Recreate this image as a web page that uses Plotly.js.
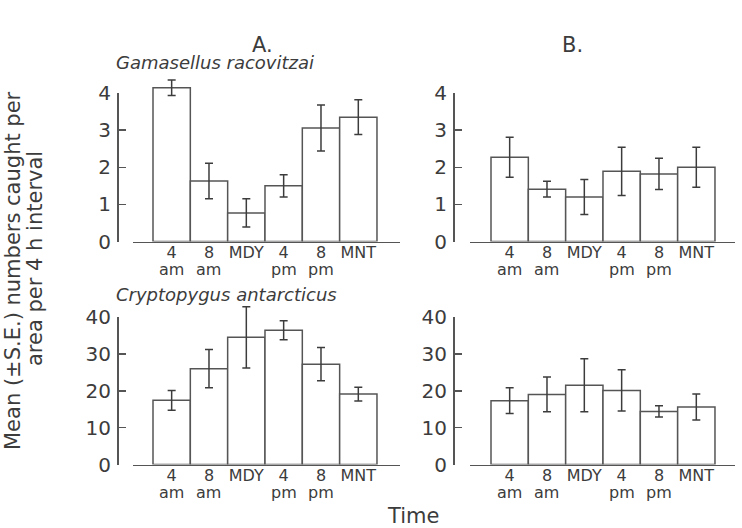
<!DOCTYPE html>
<html>
<head>
<meta charset="utf-8">
<script src="https://cdn.plot.ly/plotly-3.0.1.min.js"></script>
<style>html,body{margin:0;padding:0;background:#fff;}#chart{width:742px;height:528px;}</style>
</head>
<body>
<div id="chart"></div>
<script>
// ---- data ----
const timeLine1 = ["4", "8", "MDY", "4", "8", "MNT"];
const timeLine2 = ["am", "am", "", "pm", "pm", ""];
const slots = [0, 1, 2, 3, 4, 5];

const gamA = [4.14, 1.63, 0.77, 1.50, 3.06, 3.35];
const gamAErr = [0.21, 0.48, 0.38, 0.30, 0.62, 0.47];
const gamB = [2.27, 1.41, 1.20, 1.89, 1.82, 2.00];
const gamBErr = [0.54, 0.21, 0.47, 0.65, 0.42, 0.54];

const cryA = [17.4, 26.0, 34.5, 36.4, 27.2, 19.1];
const cryAErr = [2.7, 5.2, 8.3, 2.6, 4.5, 1.85];
const cryB = [17.3, 19.0, 21.5, 20.1, 14.4, 15.6];
const cryBErr = [3.5, 4.7, 7.2, 5.6, 1.5, 3.5];

const panelTitles = ["A.", "B."];
const speciesNames = ["Gamasellus racovitzai", "Cryptopygus antarcticus"];
const yTitleLines = ["Mean (\u00b1S.E.) numbers caught per", "area per 4 h interval"];
const xTitle = "Time";

// ---- layout helpers ----
const W = 742, H = 528;
const px = v => v / W;
const py = v => 1 - v / H;
const FONT = "DejaVu Sans, Liberation Sans, Arial, sans-serif";
const INK = "#3c3c3c";
const LINE = "#555555";

const panels = [
  {vals: gamA, err: gamAErr, xa: "x", ya: "y", vy: "y5", x0: 133, x1: 400, bar0: 153, y0: 241.5, yTop: 93, vmax: 4, dmax: 4.6, dtick: 1, axisX: 117},
  {vals: gamB, err: gamBErr, xa: "x2", ya: "y2", vy: "y6", x0: 470, x1: 735, bar0: 491, y0: 241.5, yTop: 93, vmax: 4, dmax: 4.6, dtick: 1, axisX: 453},
  {vals: cryA, err: cryAErr, xa: "x3", ya: "y3", vy: "y7", x0: 133, x1: 400, bar0: 153, y0: 464.5, yTop: 317, vmax: 40, dmax: 46, dtick: 10, axisX: 117},
  {vals: cryB, err: cryBErr, xa: "x4", ya: "y4", vy: "y8", x0: 470, x1: 735, bar0: 491, y0: 464.5, yTop: 317, vmax: 40, dmax: 46, dtick: 10, axisX: 453}
];
const BW = 37.33;

const data = [];
const layout = {
  width: W, height: H,
  margin: {l: 0, r: 0, t: 0, b: 0},
  paper_bgcolor: "#fff", plot_bgcolor: "rgba(0,0,0,0)",
  showlegend: false,
  font: {family: FONT, color: INK},
  annotations: []
};

panels.forEach((p, i) => {
  const n = i + 1;
  const xKey = n === 1 ? "xaxis" : "xaxis" + n;
  const yKey = n === 1 ? "yaxis" : "yaxis" + n;
  const vKey = "yaxis" + (n + 4);
  const pxPerUnit = (p.y0 - p.yTop) / p.vmax;
  const lo = -0.5 - (p.bar0 - p.x0) / BW;
  const hi = -0.5 + (p.x1 - p.bar0) / BW;

  layout[xKey] = {
    domain: [px(p.x0), px(p.x1)], range: [lo, hi], anchor: p.ya,
    tickmode: "array", tickvals: slots, ticktext: timeLine1,
    ticks: "", showline: true, linecolor: LINE, linewidth: 1.5,
    showgrid: false, zeroline: false, fixedrange: true,
    tickfont: {family: FONT, size: 16, color: INK}, ticklabelstandoff: -4
  };
  layout[yKey] = {
    domain: [py(p.y0), py(p.y0 - p.dmax * pxPerUnit)], range: [0, p.dmax], anchor: p.xa,
    visible: false, showgrid: false, zeroline: false, fixedrange: true
  };
  layout[vKey] = {
    domain: [py(p.y0), py(p.yTop)], range: [0, p.vmax], anchor: "free", position: px(p.axisX),
    dtick: p.dtick, tick0: 0, ticks: "inside", ticklen: 7, tickwidth: 1.5, tickcolor: LINE,
    showline: true, linecolor: LINE, linewidth: 1.5, showgrid: false, zeroline: false,
    tickfont: {family: FONT, size: 20, color: INK}, ticklabelstandoff: 2, fixedrange: true
  };

  data.push({
    type: "bar", x: slots, y: p.vals, width: 1, xaxis: p.xa, yaxis: p.ya,
    marker: {color: "#ffffff", line: {color: LINE, width: 1.5}},
    error_y: {type: "data", array: p.err, visible: true, color: INK, thickness: 1.5, width: 4},
    hoverinfo: "skip"
  });
  data.push({type: "scatter", x: [], y: [], xaxis: p.xa, yaxis: p.vy, hoverinfo: "skip", showlegend: false});

  // second line of time labels
  const lineY = i < 2 ? 269 : 492;
  timeLine2.forEach((t, k) => {
    if (!t) return;
    layout.annotations.push({
      text: t, x: slots[k], xref: p.xa, y: py(lineY), yref: "paper",
      showarrow: false, xanchor: "center", yanchor: "middle",
      font: {family: FONT, size: 16, color: INK}
    });
  });
});

// panel titles
[[262, panelTitles[0]], [572, panelTitles[1]]].forEach(([xx, t]) => {
  layout.annotations.push({text: t, x: px(xx), y: py(45), xref: "paper", yref: "paper",
    showarrow: false, xanchor: "center", yanchor: "middle", font: {family: FONT, size: 21, color: INK}});
});
// species names
[[62, speciesNames[0]], [294, speciesNames[1]]].forEach(([yy, t]) => {
  layout.annotations.push({text: "<i>" + t + "</i>", x: px(114), y: py(yy), xref: "paper", yref: "paper",
    showarrow: false, xanchor: "left", yanchor: "middle", font: {family: FONT, size: 18, color: INK}});
});
// y title (two lines)
layout.annotations.push({text: yTitleLines[0], x: px(13), y: py(271), xref: "paper", yref: "paper",
  showarrow: false, textangle: -90, xanchor: "center", yanchor: "middle", font: {family: FONT, size: 21, color: INK}});
layout.annotations.push({text: yTitleLines[1], x: px(35), y: py(259), xref: "paper", yref: "paper",
  showarrow: false, textangle: -90, xanchor: "center", yanchor: "middle", font: {family: FONT, size: 21, color: INK}});
// x title
layout.annotations.push({text: xTitle, x: px(413), y: py(516), xref: "paper", yref: "paper",
  showarrow: false, xanchor: "center", yanchor: "middle", font: {family: FONT, size: 21, color: INK}});

Plotly.newPlot("chart", data, layout, {staticPlot: true, displayModeBar: false});
</script>
</body>
</html>
